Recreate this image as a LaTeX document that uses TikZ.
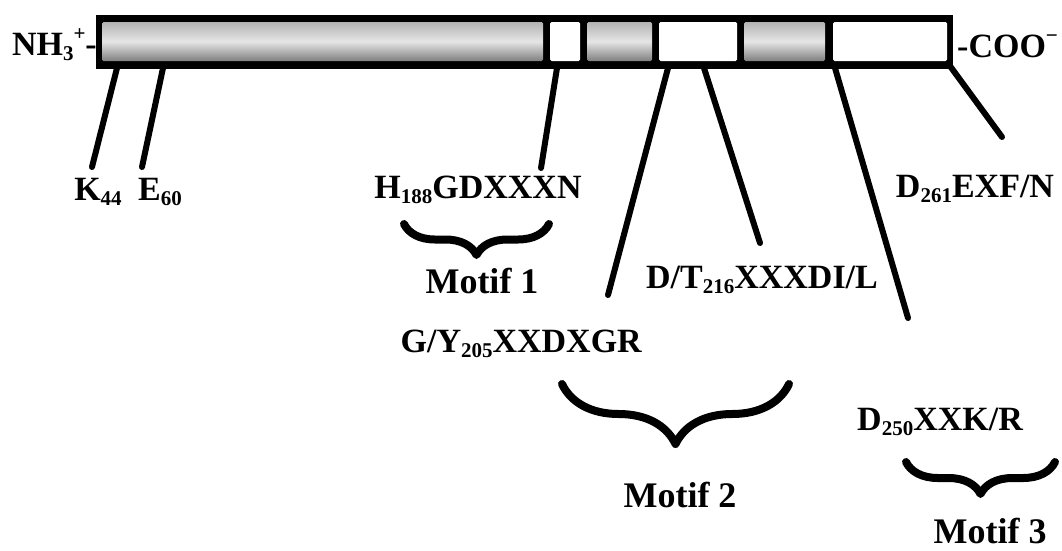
\documentclass[tikz,border=0pt]{standalone}
\usepackage{fontspec}
\setmainfont{Liberation Serif}
\usetikzlibrary{decorations.pathreplacing}
\newcommand{\subn}[1]{\raisebox{-5pt}{\fontsize{21}{21}\selectfont #1}}
\newcommand{\supn}[1]{\raisebox{15pt}{\fontsize{21}{21}\selectfont #1}}

\begin{document}
\begin{tikzpicture}[
  x=1pt, y=-1pt,
  lbl/.style={inner sep=0pt, anchor=base, font=\fontsize{34}{36}\selectfont\bfseries},
  mtf/.style={lbl, font=\fontsize{36}{38}\selectfont\bfseries},
  barbox/.style={fill=black, inner sep=0pt, minimum width=857pt, minimum height=54pt},
  shd/.style={top color=black!30, bottom color=black!50, middle color=black!10},
  wht/.style={fill=white},
  stalk/.style={line width=6pt, line cap=round},
  brc/.style={line width=8pt, line cap=round, line join=round, decorate,
              decoration={brace, amplitude=#1}}
]
\useasboundingbox[fill=white] (0,0) rectangle (1062,550);

% protein bar
\node[barbox] (bar) at (524.5,41.5) {};
\foreach \xa/\xb/\kind in {102/543/shd, 550/580/wht, 587/652/shd, 659/737/wht, 744/825/shd, 833/947/wht}
  \path[\kind, rounded corners=1.5pt] (\xa,22) rectangle (\xb,61);

\node[lbl, anchor=base east] (nterm) at (97,55) {NH\subn{3}\supn{+}-};
\node[lbl, anchor=base west] (cterm) at (957,57) {-COO\supn{−}};

% residue labels
\node[lbl] (lK)  at (98,200)  {K\subn{44}};
\node[lbl] (lE)  at (160,200) {E\subn{60}};
\node[lbl] (lH)  at (478,198) {H\subn{188}GDXXXN};
\node[lbl] (lD2) at (975,197) {D\subn{261}EXF/N};
\node[lbl] (lT)  at (762,288) {D/T\subn{216}XXXDI/L};
\node[lbl, anchor=base east] (lG) at (642,352) {G/Y\subn{205}XXDXGR};
\node[lbl] (lD1) at (940,430) {D\subn{250}XXK/R};

% sites on the bar and stalk ends
\coordinate (sK)  at (117,68);  \coordinate (eK)  at (92,167);
\coordinate (sE)  at (163,68);  \coordinate (eE)  at (142,167);
\coordinate (sH)  at (557,68);  \coordinate (eH)  at (541,168);
\coordinate (sG)  at (668,68);  \coordinate (eG)  at (608,295);
\coordinate (sT)  at (704,68);  \coordinate (eT)  at (760,243);
\coordinate (sD1) at (835,68);  \coordinate (eD1) at (908,318);
\coordinate (sD2) at (950,66);  \coordinate (eD2) at (1002,137);

\foreach \s in {K, E, H, G, T, D1, D2}
  \draw[stalk] (s\s) -- (e\s);

% motifs
\draw[brc=31pt] (549,224) -- (404,224) coordinate[midway] (b1);
\draw[brc=60pt] (789,384) -- (562,384) coordinate[midway] (b2);
\draw[brc=32pt] (1055,462) -- (906,462) coordinate[midway] (b3);

\node[mtf] (m1) at (482,293) {Motif 1};
\node[mtf] (m2) at (680,507) {Motif 2};
\node[mtf] (m3) at (990,543) {Motif 3};
\end{tikzpicture}
\end{document}
